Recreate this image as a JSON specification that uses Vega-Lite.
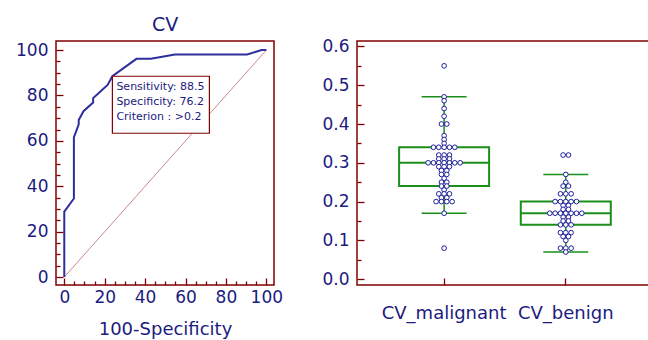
{
  "$schema": "https://vega.github.io/schema/vega-lite/v6.json",
  "padding": {"left": 14, "top": 15, "right": 0, "bottom": 0},
  "spacing": 37,
  "config": {
    "font": "DejaVu Sans",
    "view": {"stroke": "#800000", "strokeWidth": 1.5},
    "axis": {"domain": false, "grid": false, "tickColor": "#800000", "tickWidth": 1.3, "labelColor": "#1b1b80", "labelFont": "DejaVu Sans", "labelFontSize": 17, "titleColor": "#1b1b80", "titleFont": "DejaVu Sans", "titleFontSize": 18, "titleFontWeight": "normal"},
    "title": {"color": "#1b1b80", "fontSize": 19, "fontWeight": "normal", "font": "DejaVu Sans"}
  },
  "datasets": {
    "diag": [{"fpr": 0, "tpr": 0}, {"fpr": 100, "tpr": 100}],
    "roc": [
      {"fpr": 0, "tpr": 0}, {"fpr": 0, "tpr": 28.85}, {"fpr": 4.76, "tpr": 34.62}, {"fpr": 4.76, "tpr": 61.54},
      {"fpr": 7.14, "tpr": 67.31}, {"fpr": 7.14, "tpr": 69.23}, {"fpr": 9.52, "tpr": 73.08}, {"fpr": 14.29, "tpr": 76.92},
      {"fpr": 14.29, "tpr": 78.85}, {"fpr": 16.67, "tpr": 80.77}, {"fpr": 21.43, "tpr": 84.62}, {"fpr": 23.81, "tpr": 88.46},
      {"fpr": 35.71, "tpr": 96.15}, {"fpr": 42.86, "tpr": 96.15}, {"fpr": 54.76, "tpr": 98.08}, {"fpr": 90.48, "tpr": 98.08},
      {"fpr": 97.62, "tpr": 100}, {"fpr": 100, "tpr": 100}
    ],
    "crit": [{"fpr": 23.81, "tpr": 88.46, "label": "Sensitivity: 88.5\nSpecificity: 76.2\nCriterion : >0.2"}],
    "box": [
      {"g": "CV_malignant", "lo": 0.17, "q1": 0.24, "med": 0.30, "q3": 0.34, "hi": 0.47},
      {"g": "CV_benign", "lo": 0.07, "q1": 0.14, "med": 0.17, "q3": 0.20, "hi": 0.27}
    ],
    "dots": [
      {"g": "CV_malignant", "v": 0.55}, {"g": "CV_malignant", "v": 0.47}, {"g": "CV_malignant", "v": 0.46}, {"g": "CV_malignant", "v": 0.44},
      {"g": "CV_malignant", "v": 0.42}, {"g": "CV_malignant", "v": 0.40}, {"g": "CV_malignant", "v": 0.40}, {"g": "CV_malignant", "v": 0.37},
      {"g": "CV_malignant", "v": 0.36}, {"g": "CV_malignant", "v": 0.35},
      {"g": "CV_malignant", "v": 0.34}, {"g": "CV_malignant", "v": 0.34}, {"g": "CV_malignant", "v": 0.34}, {"g": "CV_malignant", "v": 0.34}, {"g": "CV_malignant", "v": 0.34},
      {"g": "CV_malignant", "v": 0.32}, {"g": "CV_malignant", "v": 0.32}, {"g": "CV_malignant", "v": 0.32},
      {"g": "CV_malignant", "v": 0.31}, {"g": "CV_malignant", "v": 0.31}, {"g": "CV_malignant", "v": 0.31},
      {"g": "CV_malignant", "v": 0.30}, {"g": "CV_malignant", "v": 0.30}, {"g": "CV_malignant", "v": 0.30}, {"g": "CV_malignant", "v": 0.30},
      {"g": "CV_malignant", "v": 0.30}, {"g": "CV_malignant", "v": 0.30}, {"g": "CV_malignant", "v": 0.30},
      {"g": "CV_malignant", "v": 0.29}, {"g": "CV_malignant", "v": 0.29}, {"g": "CV_malignant", "v": 0.29},
      {"g": "CV_malignant", "v": 0.28}, {"g": "CV_malignant", "v": 0.28},
      {"g": "CV_malignant", "v": 0.27}, {"g": "CV_malignant", "v": 0.27},
      {"g": "CV_malignant", "v": 0.26},
      {"g": "CV_malignant", "v": 0.25}, {"g": "CV_malignant", "v": 0.25},
      {"g": "CV_malignant", "v": 0.24}, {"g": "CV_malignant", "v": 0.24},
      {"g": "CV_malignant", "v": 0.23},
      {"g": "CV_malignant", "v": 0.22}, {"g": "CV_malignant", "v": 0.22}, {"g": "CV_malignant", "v": 0.22},
      {"g": "CV_malignant", "v": 0.21}, {"g": "CV_malignant", "v": 0.21},
      {"g": "CV_malignant", "v": 0.20}, {"g": "CV_malignant", "v": 0.20}, {"g": "CV_malignant", "v": 0.20}, {"g": "CV_malignant", "v": 0.20},
      {"g": "CV_malignant", "v": 0.17}, {"g": "CV_malignant", "v": 0.08},
      {"g": "CV_benign", "v": 0.32}, {"g": "CV_benign", "v": 0.32}, {"g": "CV_benign", "v": 0.27}, {"g": "CV_benign", "v": 0.25},
      {"g": "CV_benign", "v": 0.24}, {"g": "CV_benign", "v": 0.24},
      {"g": "CV_benign", "v": 0.22}, {"g": "CV_benign", "v": 0.22}, {"g": "CV_benign", "v": 0.22},
      {"g": "CV_benign", "v": 0.20}, {"g": "CV_benign", "v": 0.20}, {"g": "CV_benign", "v": 0.20}, {"g": "CV_benign", "v": 0.20}, {"g": "CV_benign", "v": 0.20},
      {"g": "CV_benign", "v": 0.19}, {"g": "CV_benign", "v": 0.19},
      {"g": "CV_benign", "v": 0.18}, {"g": "CV_benign", "v": 0.18},
      {"g": "CV_benign", "v": 0.17}, {"g": "CV_benign", "v": 0.17}, {"g": "CV_benign", "v": 0.17}, {"g": "CV_benign", "v": 0.17},
      {"g": "CV_benign", "v": 0.17}, {"g": "CV_benign", "v": 0.17}, {"g": "CV_benign", "v": 0.17},
      {"g": "CV_benign", "v": 0.16}, {"g": "CV_benign", "v": 0.16},
      {"g": "CV_benign", "v": 0.15}, {"g": "CV_benign", "v": 0.15},
      {"g": "CV_benign", "v": 0.14}, {"g": "CV_benign", "v": 0.14}, {"g": "CV_benign", "v": 0.14},
      {"g": "CV_benign", "v": 0.12}, {"g": "CV_benign", "v": 0.12}, {"g": "CV_benign", "v": 0.12},
      {"g": "CV_benign", "v": 0.11}, {"g": "CV_benign", "v": 0.11},
      {"g": "CV_benign", "v": 0.10},
      {"g": "CV_benign", "v": 0.08}, {"g": "CV_benign", "v": 0.08}, {"g": "CV_benign", "v": 0.08},
      {"g": "CV_benign", "v": 0.07}
    ]
  },
  "hconcat": [
    {
      "width": 218,
      "height": 244,
      "title": {"text": "CV", "offset": 6, "frame": "group", "anchor": "middle"},
      "layer": [
        {
          "data": {"name": "diag"},
          "mark": {"type": "line", "color": "#c06a6a", "strokeWidth": 0.8},
          "encoding": {
            "x": {"field": "fpr", "type": "quantitative", "scale": {"domain": [-4.1, 103.8], "nice": false, "zero": false},
                  "axis": {"orient": "bottom", "values": [5, 10, 15, 25, 30, 35, 45, 50, 55, 65, 70, 75, 85, 90, 95], "tickSize": -4, "labels": false, "title": null}},
            "y": {"field": "tpr", "type": "quantitative", "scale": {"domain": [-3.5, 104], "nice": false, "zero": false},
                  "axis": {"orient": "left", "values": [5, 10, 15, 25, 30, 35, 45, 50, 55, 65, 70, 75, 85, 90, 95], "tickSize": -4, "labels": false, "title": null}}
          }
        },
        {
          "data": {"name": "roc"},
          "mark": {"type": "line", "color": "#2e2e9c", "strokeWidth": 2},
          "encoding": {
            "x": {"field": "fpr", "type": "quantitative",
                  "axis": {"orient": "bottom", "values": [0, 20, 40, 60, 80, 100], "tickSize": -7, "labelPadding": 11, "title": "100-Specificity", "titlePadding": 15}},
            "y": {"field": "tpr", "type": "quantitative",
                  "axis": {"orient": "left", "values": [0, 20, 40, 60, 80, 100], "tickSize": -7, "labelPadding": 15, "title": null}},
            "order": [{"field": "fpr", "type": "quantitative"}, {"field": "tpr", "type": "quantitative"}]
          }
        },
        {
          "data": {"name": "crit"},
          "mark": {"type": "rect", "fill": "white", "stroke": "#800000", "strokeWidth": 1.2, "x2Offset": 97, "y2Offset": 57},
          "encoding": {
            "x": {"field": "fpr", "type": "quantitative", "axis": null},
            "x2": {"field": "fpr"},
            "y": {"field": "tpr", "type": "quantitative", "axis": null},
            "y2": {"field": "tpr"}
          }
        },
        {
          "data": {"name": "crit"},
          "mark": {"type": "text", "align": "left", "baseline": "top", "dx": 4, "dy": 5, "lineBreak": "\n", "lineHeight": 15, "fontSize": 11, "color": "#1b1b80"},
          "encoding": {
            "x": {"field": "fpr", "type": "quantitative", "axis": null},
            "y": {"field": "tpr", "type": "quantitative", "axis": null},
            "text": {"field": "label"}
          }
        }
      ],
      "resolve": {"axis": {"x": "independent", "y": "independent"}}
    },
    {
      "width": 292,
      "height": 244,
      "layer": [
        {
          "data": {"name": "box"},
          "mark": {"type": "bar", "fill": "transparent", "stroke": "#1a8f1a", "strokeWidth": 2, "width": 90},
          "encoding": {
            "x": {"field": "g", "type": "nominal", "sort": ["CV_malignant", "CV_benign"],
                  "scale": {"type": "band", "paddingInner": 0, "paddingOuter": 0.2, "align": 0.54},
                  "axis": {"orient": "bottom", "tickSize": -7, "labelPadding": 26, "labelFontSize": 18, "labelAngle": 0, "title": null}},
            "y": {"field": "q1", "type": "quantitative", "scale": {"domain": [-0.015, 0.614], "nice": false, "zero": false},
                  "axis": {"orient": "left", "values": [0, 0.1, 0.2, 0.3, 0.4, 0.5, 0.6], "format": ".1f", "tickSize": -7, "labelPadding": 15, "title": null}},
            "y2": {"field": "q3"}
          }
        },
        {
          "data": {"name": "box"},
          "mark": {"type": "rule", "color": "#1a8f1a", "strokeWidth": 1.5},
          "encoding": {
            "x": {"field": "g", "type": "nominal", "sort": ["CV_malignant", "CV_benign"], "scale": {"type": "band"}, "axis": null},
            "y": {"field": "q3", "type": "quantitative",
                  "axis": {"orient": "left", "values": [0.05, 0.15, 0.25, 0.35, 0.45, 0.55], "tickSize": -4, "labels": false, "title": null}},
            "y2": {"field": "hi"}
          }
        },
        {
          "data": {"name": "box"},
          "mark": {"type": "rule", "color": "#1a8f1a", "strokeWidth": 1.5},
          "encoding": {
            "x": {"field": "g", "type": "nominal", "sort": ["CV_malignant", "CV_benign"], "scale": {"type": "band"}, "axis": null},
            "y": {"field": "lo", "type": "quantitative", "axis": null},
            "y2": {"field": "q1"}
          }
        },
        {
          "data": {"name": "box"},
          "mark": {"type": "tick", "color": "#1a8f1a", "thickness": 2, "size": 90, "opacity": 1},
          "encoding": {
            "x": {"field": "g", "type": "nominal", "sort": ["CV_malignant", "CV_benign"], "scale": {"type": "band"}, "axis": null},
            "y": {"field": "med", "type": "quantitative", "axis": null}
          }
        },
        {
          "data": {"name": "box"},
          "mark": {"type": "tick", "color": "#1a8f1a", "thickness": 1.5, "size": 45, "opacity": 1},
          "encoding": {
            "x": {"field": "g", "type": "nominal", "sort": ["CV_malignant", "CV_benign"], "scale": {"type": "band"}, "axis": null},
            "y": {"field": "hi", "type": "quantitative", "axis": null}
          }
        },
        {
          "data": {"name": "box"},
          "mark": {"type": "tick", "color": "#1a8f1a", "thickness": 1.5, "size": 45, "opacity": 1},
          "encoding": {
            "x": {"field": "g", "type": "nominal", "sort": ["CV_malignant", "CV_benign"], "scale": {"type": "band"}, "axis": null},
            "y": {"field": "lo", "type": "quantitative", "axis": null}
          }
        },
        {
          "data": {"name": "dots"},
          "transform": [
            {"window": [{"op": "row_number", "as": "rn"}], "groupby": ["g", "v"]},
            {"joinaggregate": [{"op": "count", "as": "n"}], "groupby": ["g", "v"]},
            {"calculate": "datum.rn - (datum.n + 1) / 2", "as": "off"}
          ],
          "mark": {"type": "point", "shape": "circle", "size": 22, "fill": "white", "fillOpacity": 1, "stroke": "#1f1f9a", "strokeWidth": 1, "opacity": 1},
          "encoding": {
            "x": {"field": "g", "type": "nominal", "sort": ["CV_malignant", "CV_benign"], "scale": {"type": "band"}, "axis": null},
            "xOffset": {"field": "off", "type": "quantitative", "scale": {"domain": [-11.4, 11.4], "range": [0, 121.7]}},
            "y": {"field": "v", "type": "quantitative", "axis": null}
          }
        }
      ],
      "resolve": {"axis": {"x": "independent", "y": "independent"}}
    }
  ]
}
